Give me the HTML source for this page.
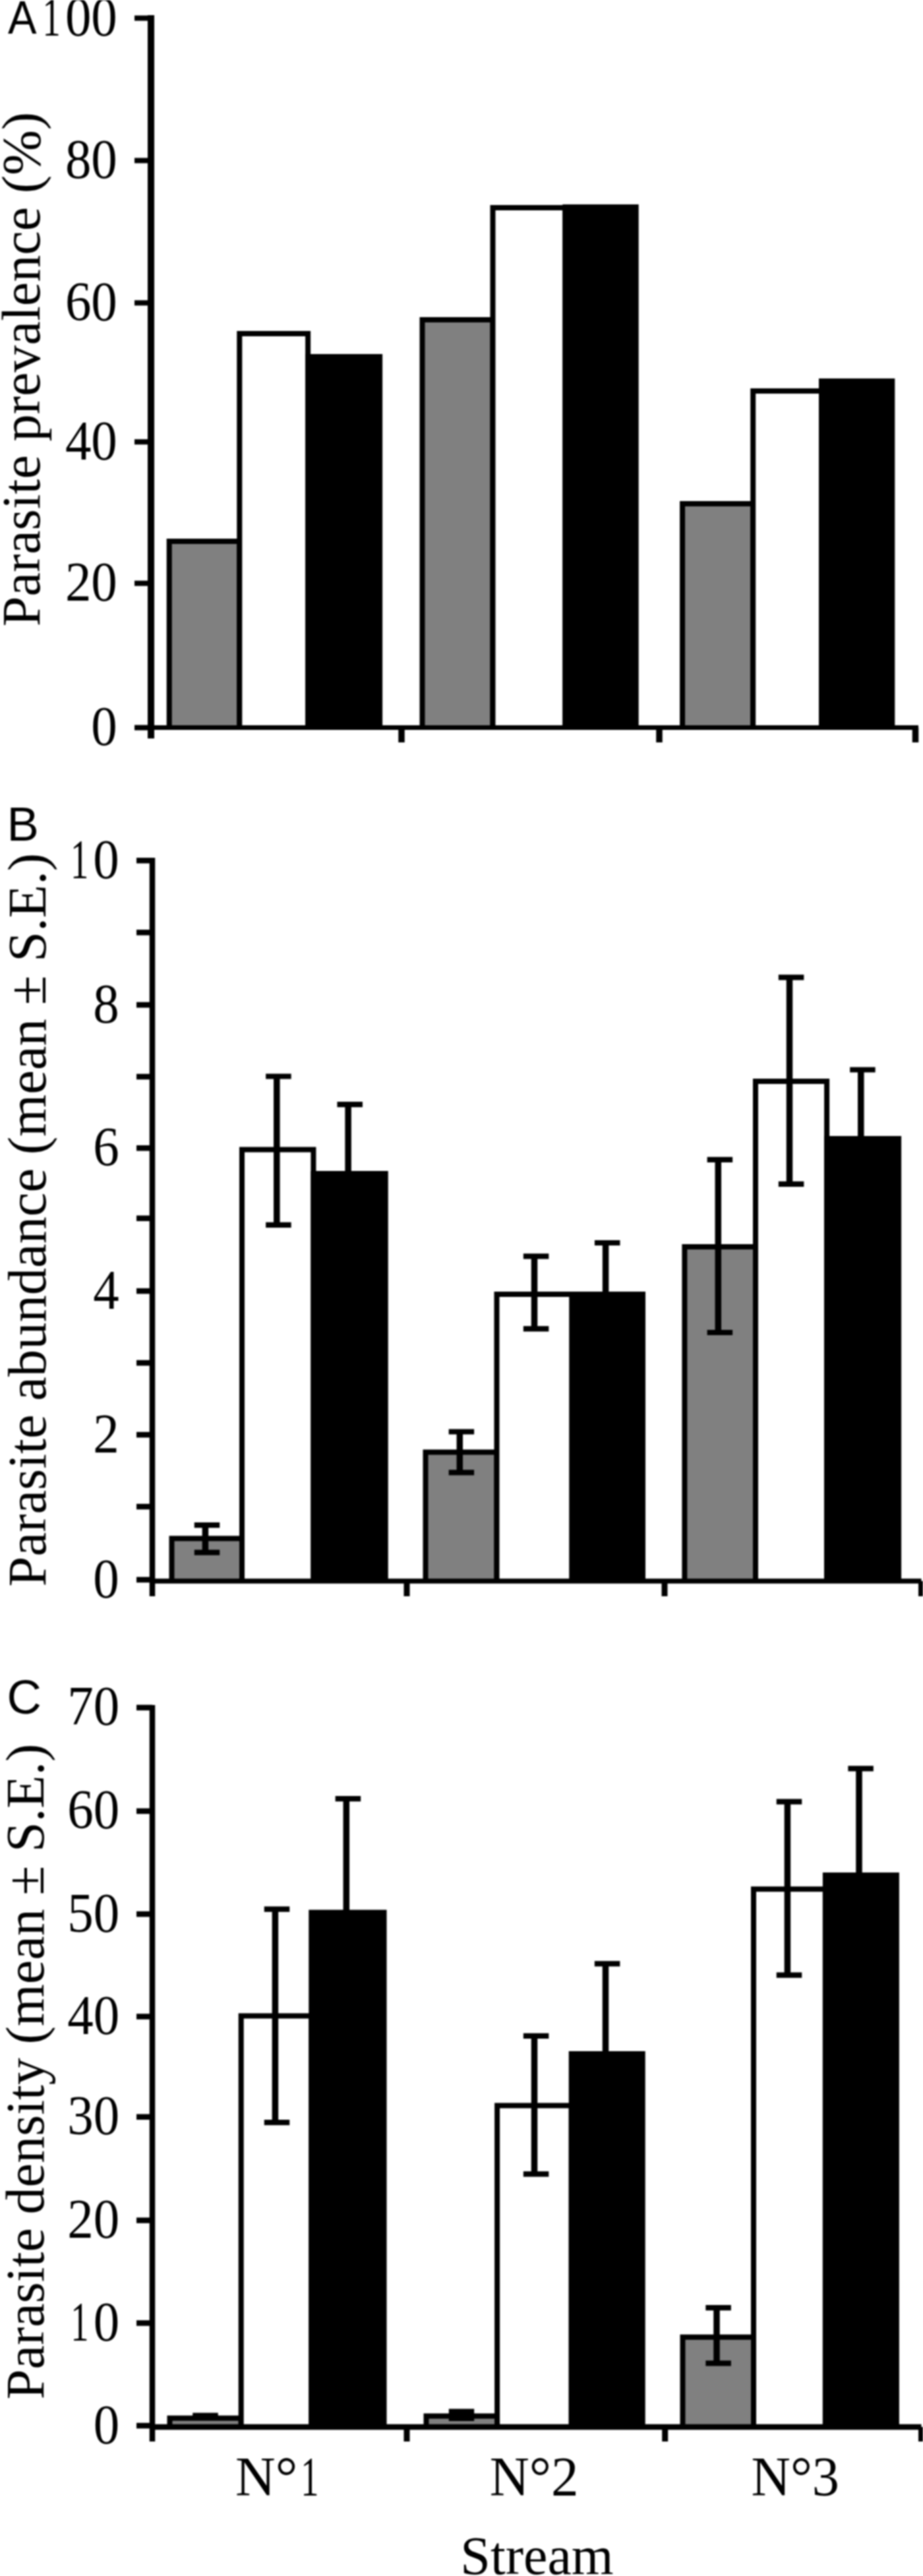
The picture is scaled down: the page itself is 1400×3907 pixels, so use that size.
<!DOCTYPE html>
<html><head><meta charset="utf-8"><style>
html,body{margin:0;padding:0;background:#fff;}
body{width:1400px;height:3907px;overflow:hidden;}
svg{display:block;filter:blur(0.8px);}
.s{font-family:"Liberation Serif",serif;}
.a{font-family:"Liberation Sans",sans-serif;}
</style></head><body>
<svg width="1400" height="3907" viewBox="0 0 1400 3907">
<rect x="252.7" y="817" width="114.6" height="286.5" fill="#000"/>
<rect x="260.7" y="825" width="98.6" height="278.5" fill="#808080"/>
<rect x="359.3" y="502" width="111.8" height="601.5" fill="#000"/>
<rect x="367.3" y="510" width="95.8" height="593.5" fill="#fff"/>
<rect x="463.1" y="537" width="117.0" height="566.5" fill="#000"/>
<rect x="636.5" y="481" width="115.0" height="622.5" fill="#000"/>
<rect x="644.5" y="489" width="99.0" height="614.5" fill="#808080"/>
<rect x="743.5" y="311" width="117.8" height="792.5" fill="#000"/>
<rect x="751.5" y="319" width="101.8" height="784.5" fill="#fff"/>
<rect x="853.3" y="310" width="115.4" height="793.5" fill="#000"/>
<rect x="1031.1" y="760" width="115.1" height="343.5" fill="#000"/>
<rect x="1039.1" y="768" width="99.1" height="335.5" fill="#808080"/>
<rect x="1138.2" y="589" width="111.8" height="514.5" fill="#000"/>
<rect x="1146.2" y="597" width="95.8" height="506.5" fill="#fff"/>
<rect x="1242" y="574" width="115.3" height="529.5" fill="#000"/>
<line x1="229" y1="23" x2="229" y2="1120" stroke="#000" stroke-width="10"/>
<line x1="204" y1="27.5" x2="229" y2="27.5" stroke="#000" stroke-width="8"/>
<text transform="translate(177.82,54.0) scale(0.94,1)" class="s" font-size="84" text-anchor="end">00</text>
<text transform="translate(91.73,54.0) scale(0.65,1)" class="s" font-size="84" text-anchor="end">1</text>
<line x1="204" y1="243.5" x2="229" y2="243.5" stroke="#000" stroke-width="8"/>
<text transform="translate(177.82,270.0) scale(0.94,1)" class="s" font-size="84" text-anchor="end">80</text>
<line x1="204" y1="459.4" x2="229" y2="459.4" stroke="#000" stroke-width="8"/>
<text transform="translate(177.82,485.9) scale(0.94,1)" class="s" font-size="84" text-anchor="end">60</text>
<line x1="204" y1="670.2" x2="229" y2="670.2" stroke="#000" stroke-width="8"/>
<text transform="translate(177.82,696.7) scale(0.94,1)" class="s" font-size="84" text-anchor="end">40</text>
<line x1="204" y1="884.7" x2="229" y2="884.7" stroke="#000" stroke-width="8"/>
<text transform="translate(177.82,911.2) scale(0.94,1)" class="s" font-size="84" text-anchor="end">20</text>
<line x1="204" y1="1103.6" x2="229" y2="1103.6" stroke="#000" stroke-width="8"/>
<text transform="translate(177.82,1130.1) scale(0.94,1)" class="s" font-size="84" text-anchor="end">0</text>
<line x1="229" y1="1103.5" x2="1393" y2="1103.5" stroke="#000" stroke-width="7"/>
<line x1="609" y1="1103.5" x2="609" y2="1126" stroke="#000" stroke-width="9.5"/>
<line x1="1000" y1="1103.5" x2="1000" y2="1126" stroke="#000" stroke-width="9.5"/>
<line x1="1388.5" y1="1103.5" x2="1388.5" y2="1126" stroke="#000" stroke-width="9.5"/>
<text transform="translate(12,51) scale(0.92,1)" class="a" font-size="71">A</text>
<text transform="translate(59.5,950.3) rotate(-90)" class="s" font-size="82.2">Parasite prevalence (%)</text>
<rect x="256.5" y="2329.4" width="114.5" height="68.6" fill="#000"/>
<rect x="264.5" y="2337.4" width="98.5" height="60.6" fill="#808080"/>
<rect x="363" y="1739.6" width="116.4" height="658.4" fill="#000"/>
<rect x="371" y="1747.6" width="100.4" height="650.4" fill="#fff"/>
<rect x="471.4" y="1776" width="117.3" height="622" fill="#000"/>
<rect x="641.5" y="2198.5" width="116.0" height="199.5" fill="#000"/>
<rect x="649.5" y="2206.5" width="100.0" height="191.5" fill="#808080"/>
<rect x="749.5" y="1959" width="122.0" height="439" fill="#000"/>
<rect x="757.5" y="1967" width="106.0" height="431" fill="#fff"/>
<rect x="863.5" y="1959" width="115.5" height="439" fill="#000"/>
<rect x="1034.4" y="1887" width="115.6" height="511" fill="#000"/>
<rect x="1042.4" y="1895" width="99.6" height="503" fill="#808080"/>
<rect x="1142" y="1636" width="116.1" height="762" fill="#000"/>
<rect x="1150" y="1644" width="100.1" height="754" fill="#fff"/>
<rect x="1250.1" y="1723" width="117.0" height="675" fill="#000"/>
<line x1="311.4" y1="2313.1" x2="311.4" y2="2354.6" stroke="#000" stroke-width="9.5"/>
<line x1="294.75" y1="2313.1" x2="333.25" y2="2313.1" stroke="#000" stroke-width="8.2"/>
<line x1="294.75" y1="2354.6" x2="333.25" y2="2354.6" stroke="#000" stroke-width="8.2"/>
<line x1="419.8" y1="1632.5" x2="419.8" y2="1857.9" stroke="#000" stroke-width="9.5"/>
<line x1="403.15000000000003" y1="1632.5" x2="441.65000000000003" y2="1632.5" stroke="#000" stroke-width="8.2"/>
<line x1="403.15000000000003" y1="1857.9" x2="441.65000000000003" y2="1857.9" stroke="#000" stroke-width="8.2"/>
<line x1="528.1" y1="1675.1" x2="528.1" y2="1850" stroke="#000" stroke-width="9.5"/>
<line x1="511.45000000000005" y1="1675.1" x2="549.95" y2="1675.1" stroke="#000" stroke-width="8.2"/>
<line x1="511.45000000000005" y1="1850" x2="549.95" y2="1850" stroke="#000" stroke-width="8.2"/>
<line x1="697.3" y1="2171.5" x2="697.3" y2="2233.3" stroke="#000" stroke-width="9.5"/>
<line x1="680.65" y1="2171.5" x2="719.15" y2="2171.5" stroke="#000" stroke-width="8.2"/>
<line x1="680.65" y1="2233.3" x2="719.15" y2="2233.3" stroke="#000" stroke-width="8.2"/>
<line x1="810.5" y1="1905.4" x2="810.5" y2="2015.3" stroke="#000" stroke-width="9.5"/>
<line x1="793.85" y1="1905.4" x2="832.35" y2="1905.4" stroke="#000" stroke-width="8.2"/>
<line x1="793.85" y1="2015.3" x2="832.35" y2="2015.3" stroke="#000" stroke-width="8.2"/>
<line x1="918.6" y1="1885" x2="918.6" y2="2000" stroke="#000" stroke-width="9.5"/>
<line x1="901.95" y1="1885" x2="940.45" y2="1885" stroke="#000" stroke-width="8.2"/>
<line x1="901.95" y1="2000" x2="940.45" y2="2000" stroke="#000" stroke-width="8.2"/>
<line x1="1089.3" y1="1758.9" x2="1089.3" y2="2021" stroke="#000" stroke-width="9.5"/>
<line x1="1072.6499999999999" y1="1758.9" x2="1111.1499999999999" y2="1758.9" stroke="#000" stroke-width="8.2"/>
<line x1="1072.6499999999999" y1="2021" x2="1111.1499999999999" y2="2021" stroke="#000" stroke-width="8.2"/>
<line x1="1197.5" y1="1482.3" x2="1197.5" y2="1795.8" stroke="#000" stroke-width="9.5"/>
<line x1="1180.85" y1="1482.3" x2="1219.35" y2="1482.3" stroke="#000" stroke-width="8.2"/>
<line x1="1180.85" y1="1795.8" x2="1219.35" y2="1795.8" stroke="#000" stroke-width="8.2"/>
<line x1="1305.8" y1="1622.5" x2="1305.8" y2="1800" stroke="#000" stroke-width="9.5"/>
<line x1="1289.1499999999999" y1="1622.5" x2="1327.6499999999999" y2="1622.5" stroke="#000" stroke-width="8.2"/>
<line x1="1289.1499999999999" y1="1800" x2="1327.6499999999999" y2="1800" stroke="#000" stroke-width="8.2"/>
<line x1="231" y1="1301" x2="231" y2="2421" stroke="#000" stroke-width="8.5"/>
<line x1="207" y1="2396" x2="231" y2="2396" stroke="#000" stroke-width="8.5"/>
<text transform="translate(180.82,2422.5) scale(0.94,1)" class="s" font-size="84" text-anchor="end">0</text>
<line x1="207" y1="2285.1" x2="231" y2="2285.1" stroke="#000" stroke-width="8.5"/>
<line x1="207" y1="2176.1" x2="231" y2="2176.1" stroke="#000" stroke-width="8.5"/>
<text transform="translate(180.82,2202.6) scale(0.94,1)" class="s" font-size="84" text-anchor="end">2</text>
<line x1="207" y1="2067.1" x2="231" y2="2067.1" stroke="#000" stroke-width="8.5"/>
<line x1="207" y1="1958.1" x2="231" y2="1958.1" stroke="#000" stroke-width="8.5"/>
<text transform="translate(180.82,1984.6) scale(0.94,1)" class="s" font-size="84" text-anchor="end">4</text>
<line x1="207" y1="1847.8" x2="231" y2="1847.8" stroke="#000" stroke-width="8.5"/>
<line x1="207" y1="1741.3" x2="231" y2="1741.3" stroke="#000" stroke-width="8.5"/>
<text transform="translate(180.82,1767.8) scale(0.94,1)" class="s" font-size="84" text-anchor="end">6</text>
<line x1="207" y1="1633" x2="231" y2="1633" stroke="#000" stroke-width="8.5"/>
<line x1="207" y1="1524.1" x2="231" y2="1524.1" stroke="#000" stroke-width="8.5"/>
<text transform="translate(180.82,1550.6) scale(0.94,1)" class="s" font-size="84" text-anchor="end">8</text>
<line x1="207" y1="1414.3" x2="231" y2="1414.3" stroke="#000" stroke-width="8.5"/>
<line x1="207" y1="1305.2" x2="231" y2="1305.2" stroke="#000" stroke-width="8.5"/>
<text transform="translate(180.82,1331.7) scale(0.94,1)" class="s" font-size="84" text-anchor="end">0</text>
<text transform="translate(134.21,1331.7) scale(0.65,1)" class="s" font-size="84" text-anchor="end">1</text>
<line x1="231" y1="2398" x2="1397.5" y2="2398" stroke="#000" stroke-width="7.5"/>
<line x1="617" y1="2398" x2="617" y2="2421" stroke="#000" stroke-width="9"/>
<line x1="1008" y1="2398" x2="1008" y2="2421" stroke="#000" stroke-width="9"/>
<line x1="1397.5" y1="2398" x2="1397.5" y2="2421" stroke="#000" stroke-width="9"/>
<text x="10.4" y="1274.6" class="a" font-size="72.5" text-anchor="start" >B</text>
<text transform="translate(69.3,2406.5) rotate(-90)" class="s" font-size="82.5">Parasite abundance (mean ± S.E.)</text>
<rect x="253.5" y="3663.6" width="116.2" height="17.4" fill="#000"/>
<rect x="261.5" y="3671.6" width="100.2" height="9.4" fill="#808080"/>
<rect x="361.7" y="3053.5" width="114.6" height="627.5" fill="#000"/>
<rect x="369.7" y="3061.5" width="98.6" height="619.5" fill="#fff"/>
<rect x="468.3" y="2896.6" width="118.2" height="784.4" fill="#000"/>
<rect x="642.5" y="3660.4" width="115.6" height="20.6" fill="#000"/>
<rect x="650.5" y="3668.4" width="99.6" height="12.6" fill="#808080"/>
<rect x="750.1" y="3189.5" width="120.6" height="491.5" fill="#000"/>
<rect x="758.1" y="3197.5" width="104.6" height="483.5" fill="#fff"/>
<rect x="862.7" y="3111" width="116.0" height="570" fill="#000"/>
<rect x="1031.5" y="3540.7" width="115.5" height="140.3" fill="#000"/>
<rect x="1039.5" y="3548.7" width="99.5" height="132.3" fill="#808080"/>
<rect x="1139" y="2861.2" width="116.9" height="819.8" fill="#000"/>
<rect x="1147" y="2869.2" width="100.9" height="811.8" fill="#fff"/>
<rect x="1247.9" y="2840" width="116.0" height="841" fill="#000"/>
<line x1="308.9" y1="3663.5" x2="308.9" y2="3667" stroke="#000" stroke-width="9.5"/>
<line x1="292.25" y1="3663.5" x2="330.75" y2="3663.5" stroke="#000" stroke-width="8.2"/>
<line x1="292.25" y1="3667" x2="330.75" y2="3667" stroke="#000" stroke-width="8.2"/>
<line x1="417.4" y1="2895.7" x2="417.4" y2="3219.2" stroke="#000" stroke-width="9.5"/>
<line x1="400.75" y1="2895.7" x2="439.25" y2="2895.7" stroke="#000" stroke-width="8.2"/>
<line x1="400.75" y1="3219.2" x2="439.25" y2="3219.2" stroke="#000" stroke-width="8.2"/>
<line x1="525.3" y1="2728.1" x2="525.3" y2="3000" stroke="#000" stroke-width="9.5"/>
<line x1="508.65" y1="2728.1" x2="547.15" y2="2728.1" stroke="#000" stroke-width="8.2"/>
<line x1="508.65" y1="3000" x2="547.15" y2="3000" stroke="#000" stroke-width="8.2"/>
<line x1="697.4" y1="3657.7" x2="697.4" y2="3667.9" stroke="#000" stroke-width="9.5"/>
<line x1="680.75" y1="3657.7" x2="719.25" y2="3657.7" stroke="#000" stroke-width="8.2"/>
<line x1="680.75" y1="3667.9" x2="719.25" y2="3667.9" stroke="#000" stroke-width="8.2"/>
<line x1="810.5" y1="3087.8" x2="810.5" y2="3297.4" stroke="#000" stroke-width="9.5"/>
<line x1="793.85" y1="3087.8" x2="832.35" y2="3087.8" stroke="#000" stroke-width="8.2"/>
<line x1="793.85" y1="3297.4" x2="832.35" y2="3297.4" stroke="#000" stroke-width="8.2"/>
<line x1="918.5" y1="2978.4" x2="918.5" y2="3200" stroke="#000" stroke-width="9.5"/>
<line x1="901.85" y1="2978.4" x2="940.35" y2="2978.4" stroke="#000" stroke-width="8.2"/>
<line x1="901.85" y1="3200" x2="940.35" y2="3200" stroke="#000" stroke-width="8.2"/>
<line x1="1087" y1="3500.1" x2="1087" y2="3584.3" stroke="#000" stroke-width="9.5"/>
<line x1="1070.35" y1="3500.1" x2="1108.85" y2="3500.1" stroke="#000" stroke-width="8.2"/>
<line x1="1070.35" y1="3584.3" x2="1108.85" y2="3584.3" stroke="#000" stroke-width="8.2"/>
<line x1="1194.4" y1="2732.6" x2="1194.4" y2="2995.6" stroke="#000" stroke-width="9.5"/>
<line x1="1177.75" y1="2732.6" x2="1216.25" y2="2732.6" stroke="#000" stroke-width="8.2"/>
<line x1="1177.75" y1="2995.6" x2="1216.25" y2="2995.6" stroke="#000" stroke-width="8.2"/>
<line x1="1303" y1="2682.3" x2="1303" y2="2900" stroke="#000" stroke-width="9.5"/>
<line x1="1286.35" y1="2682.3" x2="1324.85" y2="2682.3" stroke="#000" stroke-width="8.2"/>
<line x1="1286.35" y1="2900" x2="1324.85" y2="2900" stroke="#000" stroke-width="8.2"/>
<line x1="231" y1="2586" x2="231" y2="3703" stroke="#000" stroke-width="8.5"/>
<line x1="207" y1="2589.9" x2="231" y2="2589.9" stroke="#000" stroke-width="8.5"/>
<text transform="translate(181.12,2616.4) scale(0.94,1)" class="s" font-size="84" text-anchor="end">70</text>
<line x1="207" y1="2746.9" x2="231" y2="2746.9" stroke="#000" stroke-width="8.5"/>
<text transform="translate(181.12,2773.4) scale(0.94,1)" class="s" font-size="84" text-anchor="end">60</text>
<line x1="207" y1="2903.1" x2="231" y2="2903.1" stroke="#000" stroke-width="8.5"/>
<text transform="translate(181.12,2929.6) scale(0.94,1)" class="s" font-size="84" text-anchor="end">50</text>
<line x1="207" y1="3058.5" x2="231" y2="3058.5" stroke="#000" stroke-width="8.5"/>
<text transform="translate(181.12,3085.0) scale(0.94,1)" class="s" font-size="84" text-anchor="end">40</text>
<line x1="207" y1="3210.7" x2="231" y2="3210.7" stroke="#000" stroke-width="8.5"/>
<text transform="translate(181.12,3237.2) scale(0.94,1)" class="s" font-size="84" text-anchor="end">30</text>
<line x1="207" y1="3367.6" x2="231" y2="3367.6" stroke="#000" stroke-width="8.5"/>
<text transform="translate(181.12,3394.1) scale(0.94,1)" class="s" font-size="84" text-anchor="end">20</text>
<line x1="207" y1="3523.4" x2="231" y2="3523.4" stroke="#000" stroke-width="8.5"/>
<text transform="translate(181.12,3549.9) scale(0.94,1)" class="s" font-size="84" text-anchor="end">0</text>
<text transform="translate(134.51,3549.9) scale(0.65,1)" class="s" font-size="84" text-anchor="end">1</text>
<line x1="207" y1="3679" x2="231" y2="3679" stroke="#000" stroke-width="8.5"/>
<text transform="translate(181.12,3705.5) scale(0.94,1)" class="s" font-size="84" text-anchor="end">0</text>
<line x1="231" y1="3681" x2="1397.5" y2="3681" stroke="#000" stroke-width="8.5"/>
<line x1="617" y1="3681" x2="617" y2="3703" stroke="#000" stroke-width="9"/>
<line x1="1008.7" y1="3681" x2="1008.7" y2="3703" stroke="#000" stroke-width="9"/>
<line x1="1397.5" y1="3681" x2="1397.5" y2="3703" stroke="#000" stroke-width="9"/>
<text x="10.5" y="2598.6" class="a" font-size="72.5" text-anchor="start" >C</text>
<text transform="translate(66,3639.2) rotate(-90)" class="s" font-size="82.2">Parasite density (mean ± S.E.)</text>
<text transform="translate(357.1,3785) scale(1,1)" class="s" font-size="84" text-anchor="start">N°</text>
<text transform="translate(483.65,3785) scale(0.65,1)" class="s" font-size="84" text-anchor="end">1</text>
<text transform="translate(810.2,3785) scale(0.99,1)" class="s" font-size="84" text-anchor="middle">N°2</text>
<text transform="translate(1206.2,3785) scale(0.98,1)" class="s" font-size="84" text-anchor="middle">N°3</text>
<text x="814.5" y="3904.4" class="s" font-size="82" text-anchor="middle" >Stream</text>
</svg>
</body></html>
